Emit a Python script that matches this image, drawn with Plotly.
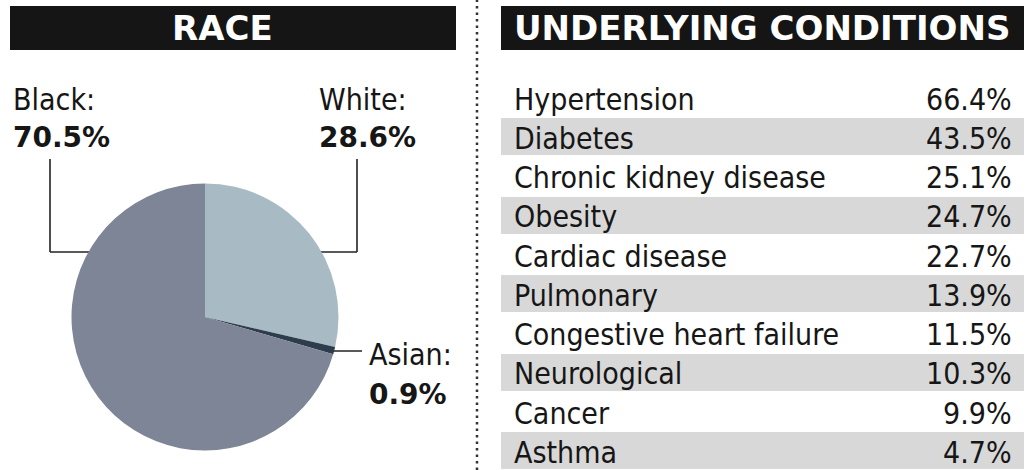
import plotly.graph_objects as go

# ---------------- data ----------------
race_labels = ["White", "Asian", "Black"]
race_values = [28.6, 0.9, 70.5]
race_colors = ["#A8BAC4", "#2E3D4C", "#7D8596"]

conditions = ["Hypertension", "Diabetes", "Chronic kidney disease", "Obesity",
              "Cardiac disease", "Pulmonary", "Congestive heart failure",
              "Neurological", "Cancer", "Asthma"]
cond_values = [66.4, 43.5, 25.1, 24.7, 22.7, 13.9, 11.5, 10.3, 9.9, 4.7]

left_title = "RACE"
right_title = "UNDERLYING CONDITIONS"

# ---------------- layout helpers ----------------
W, H = 1027, 470
def px(x):
    return x / W
def py(y):
    return 1 - y / H

COND = "DejaVu Sans Condensed, Liberation Sans Narrow, sans-serif"
HEAVY = "DejaVu Sans, Liberation Sans, sans-serif"
TXT = "#161616"
cfont = dict(family=COND, size=30, color=TXT)

fig = go.Figure()

# pie
fig.add_trace(go.Pie(
    labels=race_labels, values=race_values, sort=False,
    direction="clockwise", rotation=0,
    marker=dict(colors=race_colors, line=dict(width=0)),
    textinfo="none", hoverinfo="label+percent", showlegend=False,
    domain=dict(x=[px(71.5), px(338.5)], y=[py(450.5), py(183.5)]),
))

# table bands (shaded alternating rows) as horizontal bars
shaded_idx = [i for i in range(len(conditions)) if i % 2 == 1]
fig.add_trace(go.Bar(
    orientation="h", y=shaded_idx, x=[1] * len(shaded_idx), base=0,
    width=0.94, marker=dict(color="#D8D8D8", line=dict(width=0)),
    hoverinfo="skip", showlegend=False, xaxis="x", yaxis="y",
))

annotations = []
for i, (name, val) in enumerate(zip(conditions, cond_values)):
    annotations.append(dict(x=0, y=i, xref="x", yref="y", text=name,
                            xanchor="left", yanchor="middle", xshift=11, yshift=-2,
                            showarrow=False, font=cfont))
    annotations.append(dict(x=1, y=i, xref="x", yref="y", text=f"{val:.1f}%",
                            xanchor="right", yanchor="middle", xshift=-10, yshift=-2,
                            showarrow=False, font=cfont))

# headers
shapes = [
    dict(type="rect", xref="paper", yref="paper", x0=px(10), x1=px(456), y0=py(50), y1=py(6),
         fillcolor="#151515", line=dict(width=0)),
    dict(type="rect", xref="paper", yref="paper", x0=px(501), x1=px(1024), y0=py(50), y1=py(6),
         fillcolor="#151515", line=dict(width=0)),
    # divider
    dict(type="line", xref="paper", yref="paper", x0=px(477), x1=px(477), y0=0, y1=1,
         line=dict(color="#333333", width=2.5, dash="2.5px,4px")),
    # leader lines
    dict(type="line", xref="paper", yref="paper", x0=px(50), x1=px(50), y0=py(159), y1=py(252),
         line=dict(color="#222222", width=1.6), layer="below"),
    dict(type="line", xref="paper", yref="paper", x0=px(50), x1=px(100), y0=py(252), y1=py(252),
         line=dict(color="#222222", width=1.6), layer="below"),
    dict(type="line", xref="paper", yref="paper", x0=px(357), x1=px(357), y0=py(159), y1=py(252),
         line=dict(color="#222222", width=1.6), layer="below"),
    dict(type="line", xref="paper", yref="paper", x0=px(310), x1=px(357), y0=py(252), y1=py(252),
         line=dict(color="#222222", width=1.6), layer="below"),
    dict(type="line", xref="paper", yref="paper", x0=px(325), x1=px(362), y0=py(351), y1=py(351),
         line=dict(color="#222222", width=1.6), layer="below"),
]

annotations += [
    dict(x=px(222), y=py(28), xref="paper", yref="paper", text=f"<b>{left_title}</b>",
         xanchor="center", yanchor="middle", showarrow=False,
         font=dict(family=HEAVY, size=34, color="white")),
    dict(x=px(762), y=py(28), xref="paper", yref="paper", text=f"<b>{right_title}</b>",
         xanchor="center", yanchor="middle", showarrow=False,
         font=dict(family=HEAVY, size=34, color="white")),
]

pct = {l: v for l, v in zip(race_labels, race_values)}
label_pos = {"Black": (11, 100, 137), "White": (317, 100, 137), "Asian": (367, 354, 394)}
for lab, (x, y1, y2) in label_pos.items():
    annotations.append(dict(x=px(x), y=py(y1), xref="paper", yref="paper", text=f"{lab}:",
                            xanchor="left", yanchor="middle", showarrow=False, font=cfont))
    annotations.append(dict(x=px(x), y=py(y2), xref="paper", yref="paper", text=f"<b>{pct[lab]:.1f}%</b>",
                            xanchor="left", yanchor="middle", showarrow=False,
                            font=dict(family=HEAVY, size=28, color=TXT)))

n = len(conditions)
fig.update_layout(
    width=W, height=H,
    margin=dict(l=0, r=0, t=0, b=0),
    paper_bgcolor="white", plot_bgcolor="rgba(0,0,0,0)",
    xaxis=dict(domain=[px(501), px(1024)], range=[0, 1], visible=False, fixedrange=True),
    yaxis=dict(domain=[0, py(77.6)], range=[n - 0.5, -0.5], visible=False, fixedrange=True),
    shapes=shapes, annotations=annotations, bargap=0,
)

fig.write_html("out.html", config={"displayModeBar": False},
               post_script="document.body.style.margin='0';document.body.style.overflow='hidden';")
